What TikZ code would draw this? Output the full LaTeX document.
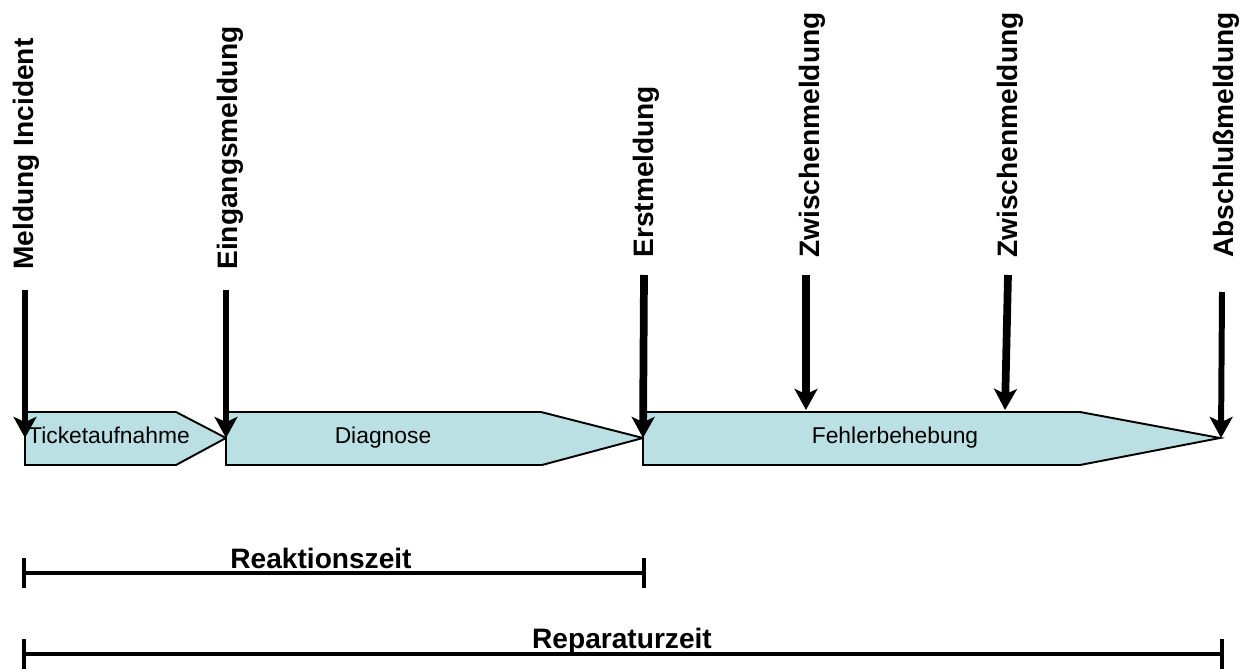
\documentclass[tikz,border=0pt]{standalone}
\usepackage{fontspec}
\setmainfont{Liberation Sans}
\usetikzlibrary{arrows.meta, calc}
\definecolor{phaseBlue}{RGB}{186,224,227}
\tikzstyle{phase}      = [draw=black, 
                          line width=1.1pt, 
                          line join=miter, 
                          fill=phaseBlue]
\tikzstyle{phaseText}  = [inner sep=0pt, 
                          anchor=base, 
                          font=\fontsize{13}{15}\selectfont]
\tikzstyle{eventText}  = [inner sep=0pt, 
                          rotate=90, 
                          anchor=base west, 
                          font=\bfseries\fontsize{16}{19}\selectfont]
\tikzstyle{spanText}   = [inner sep=0pt, 
                          anchor=base, 
                          font=\bfseries\fontsize{16}{19}\selectfont]
\tikzstyle{eventArrow} = [line width=3.4pt, -{Stealth[length=12pt, width=13pt, inset=3pt]}]
\tikzstyle{bigArrow}   = [line width=4.4pt, -{Stealth[length=12pt, width=13pt, inset=3pt]}]
\tikzstyle{spanBar}    = [line width=2pt, {Bar[width=17pt]}-{Bar[width=17pt]}]

\begin{document}
\begin{tikzpicture}[x=0.02cm, y=-0.02cm]
\useasboundingbox (0,0) rectangle (1248,669);

% phases
\draw [phase] (25,412) -- (176,412) -- (226,438) -- (176,465) -- (25,465) -- cycle;
\draw [phase] (226,412) -- (541,412) -- (643,438) -- (542,465) -- (226,465) -- cycle;
\draw [phase] (643,412) -- (1080,412) -- (1220,438) -- (1080,465) -- (643,465) -- cycle;

\node [phaseText] (ticket)   at (109,443) {Ticketaufnahme};
\node [phaseText] (diagnose) at (383,443) {Diagnose};
\node [phaseText] (fehler)   at (895,443) {Fehlerbehebung};

% events
\coordinate (meldungTop)   at (25,290);
\coordinate (eingangTop)   at (226,290);
\coordinate (erstTop)      at (644,275);
\coordinate (zwischenATop) at (806,275);
\coordinate (zwischenBTop) at (1008,275);
\coordinate (abschlussTop) at (1222,292);

\coordinate (meldungTip)   at (25,438);
\coordinate (eingangTip)   at (226,438);
\coordinate (erstTip)      at (643,438);
\coordinate (zwischenATip) at (806,410);
\coordinate (zwischenBTip) at (1005,410);
\coordinate (abschlussTip) at (1221,438);

\node [eventText] (meldung)   at ([shift={(8,-20)}] meldungTop)    {Meldung Incident};
\node [eventText] (eingang)   at ([shift={(11,-20)}] eingangTop)   {Eingangsmeldung};
\node [eventText] (erst)      at ([shift={(9,-17)}] erstTop)       {Erstmeldung};
\node [eventText] (zwischenA) at ([shift={(13,-17)}] zwischenATop) {Zwischenmeldung};
\node [eventText] (zwischenB) at ([shift={(9,-17)}] zwischenBTop)  {Zwischenmeldung};
\node [eventText] (abschluss) at ([shift={(11,-34)}] abschlussTop) {Abschlußmeldung};

\draw [eventArrow] (meldungTop) -- (meldungTip);
\draw [eventArrow] (eingangTop) -- (eingangTip);
\draw [bigArrow]   (erstTop) -- (erstTip);
\draw [bigArrow]   (zwischenATop) -- (zwischenATip);
\draw [bigArrow]   (zwischenBTop) -- (zwischenBTip);
\draw [eventArrow] (abschlussTop) -- (abschlussTip);

% spans
\coordinate (reaktionStart) at (22,573);
\coordinate (reaktionEnd)   at (646,573);
\coordinate (reparStart)    at (22,654);
\coordinate (reparEnd)      at (1224,654);

\draw [spanBar] (reaktionStart) -- (reaktionEnd);
\draw [spanBar] (reparStart) -- (reparEnd);

\node [spanText] (reaktion) at (321,568) {Reaktionszeit};
\node [spanText] (repar)    at (622,648) {Reparaturzeit};

\end{tikzpicture}
\end{document}
